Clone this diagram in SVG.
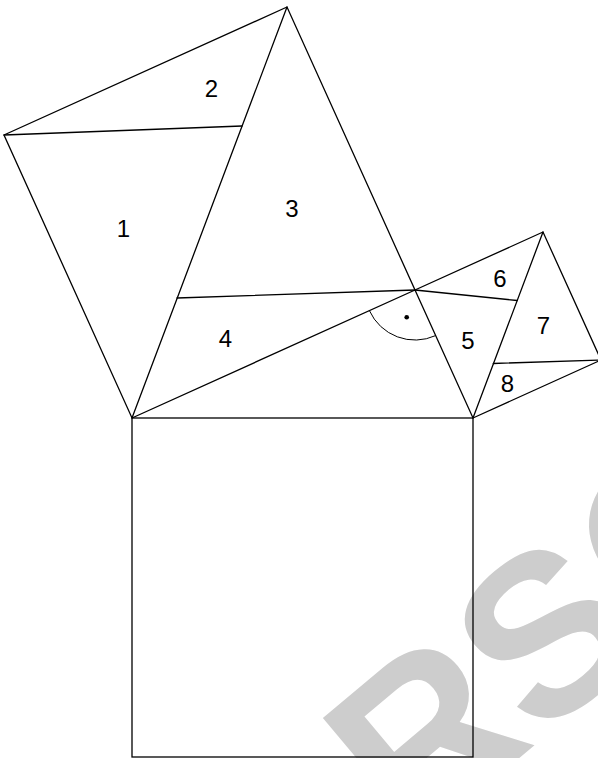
<svg xmlns="http://www.w3.org/2000/svg" width="598" height="758" viewBox="0 0 598 758">
  <style>
    .ln { fill: none; stroke: #000; stroke-width: 1.3; stroke-linejoin: miter; stroke-linecap: round; }
    .thin { fill: none; stroke: #000; stroke-width: 1; }
    .lbl { font-family: "Liberation Sans", Arial, Helvetica, sans-serif; font-size: 24px; fill: #000; text-anchor: middle; }
    .wm { font-family: "Liberation Sans", Arial, Helvetica, sans-serif; font-weight: bold; font-size: 228px; fill: #cdcdcd; }
  </style>
  <rect x="0" y="0" width="598" height="758" fill="#fff"/>
  <g id="watermark" transform="translate(412,848) rotate(-40)">
    <text class="wm" x="-468.8" y="0">PEARSON</text>
  </g>
  <g id="square-hypotenuse">
    <rect class="ln" x="132" y="418" width="341" height="339"/>
  </g>
  <g id="square-left">
    <polygon class="ln" points="132,418 415,290 287,7 4,135"/>
  </g>
  <g id="square-right">
    <polygon class="ln" points="415,290 473,418 601,360 543,232"/>
  </g>
  <g id="connectors">
    <line class="ln" x1="132" y1="418" x2="287" y2="7"/>
    <line class="ln" x1="4" y1="135" x2="242" y2="126"/>
    <line class="ln" x1="177" y1="298" x2="415" y2="290"/>
    <line class="ln" x1="543" y1="232" x2="473" y2="418"/>
    <line class="ln" x1="415" y1="290" x2="517.2" y2="300.5"/>
    <line class="ln" x1="601" y1="360" x2="493.3" y2="363.5"/>
  </g>
  <g id="right-angle">
    <path class="thin" d="M369.4,310.6 A50,50 0 0 0 435.6,335.6"/>
    <circle cx="406.7" cy="317.3" r="2.3" fill="#000"/>
  </g>
  <g id="labels">
    <text class="lbl" x="123.5" y="237">1</text>
    <text class="lbl" x="211.5" y="97">2</text>
    <text class="lbl" x="292" y="216.5">3</text>
    <text class="lbl" x="225.5" y="346.5">4</text>
    <text class="lbl" x="468" y="349">5</text>
    <text class="lbl" x="500" y="286.5">6</text>
    <text class="lbl" x="543.5" y="334">7</text>
    <text class="lbl" x="507.5" y="392">8</text>
  </g>
</svg>
